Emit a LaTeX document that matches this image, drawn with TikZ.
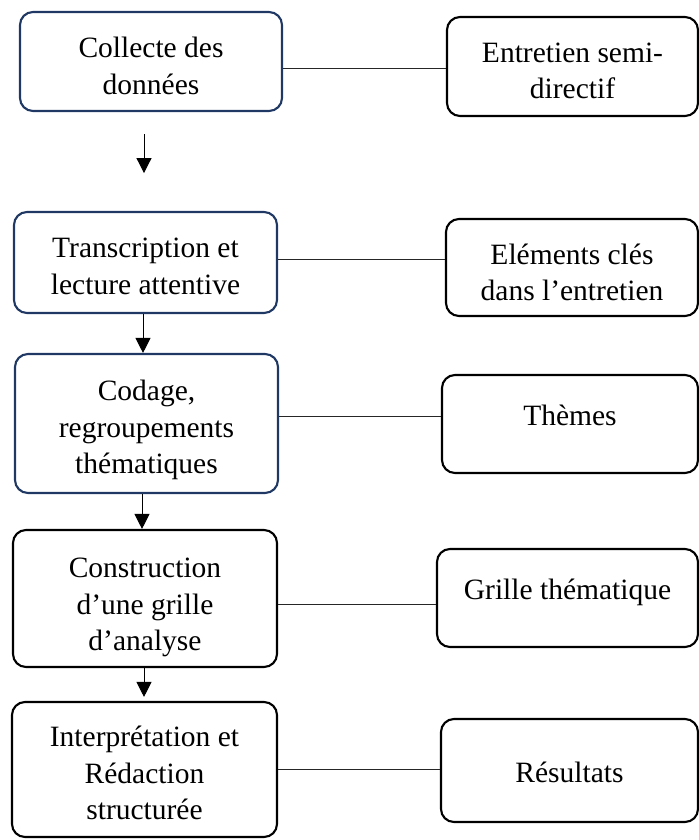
\documentclass[tikz,border=0pt]{standalone}
\usepackage{fontspec}
\setmainfont{Liberation Serif}
\usetikzlibrary{arrows.meta}
\definecolor{navyedge}{RGB}{32,56,100}
% invisible strut that sets the height of a first text line
\newcommand{\topgap}[1]{\rule{0pt}{#1}}
\begin{document}
\begin{tikzpicture}[x=1bp,y=-1bp,
  stepbox/.style={draw=black, line width=2.1bp, rounded corners=13bp,
    align=center, inner sep=0pt, fill=white,
    font=\fontsize{29.5bp}{36.5bp}\selectfont},
  bluebox/.style={stepbox, draw=navyedge},
  link/.style={line width=0.9bp, draw=black!85},
  flow/.style={line width=1bp, -{Triangle[width=15bp,length=15bp]}}]
\useasboundingbox (0,0) rectangle (699,840);

% process steps (left column)
\node[bluebox, minimum width=262bp, minimum height=99bp] (l1) at (151,61.5) {\topgap{29bp}Collecte des\\données};
\node[bluebox, minimum width=263bp, minimum height=101bp] (l2) at (145.5,262.5) {\topgap{27bp}Transcription et\\lecture attentive};
\node[bluebox, minimum width=263bp, minimum height=139bp] (l3) at (146.5,423.5) {\topgap{34bp}Codage,\\regroupements\\thématiques};
\node[stepbox, minimum width=264bp, minimum height=137bp] (l4) at (145,598.5) {\topgap{38bp}Construction\\d’une grille\\d’analyse};
\node[stepbox, minimum width=265bp, minimum height=135bp] (l5) at (144.5,769.5) {\topgap{28bp}Interprétation et\\Rédaction\\structurée};

% outputs (right column)
\node[stepbox, minimum width=251bp, minimum height=99bp] (r1) at (572.5,66.5) {\topgap{28bp}Entretien semi-\\directif};
\node[stepbox, minimum width=252bp, minimum height=97bp] (r2) at (572,267.5) {\topgap{30bp}Eléments clés\\dans l’entretien};
\node[stepbox, minimum width=256bp, minimum height=98bp, text depth=18bp] (r3) at (570,424) {Thèmes};
\node[stepbox, minimum width=261bp, minimum height=98bp, text depth=18bp] (r4) at (567.5,598) {Grille thématique};
\node[stepbox, minimum width=257bp, minimum height=103bp] (r5) at (569.5,770.5) {\topgap{24bp}Résultats};

% horizontal links between columns
\draw[link] ([yshift=-6.5bp]l1.east) -- ([yshift=-6.5bp]l1.east -| r1.west);
\draw[link] ([yshift=3.5bp]l2.east) -- ([yshift=3.5bp]l2.east -| r2.west);
\draw[link] ([yshift=7.5bp]l3.east) -- ([yshift=7.5bp]l3.east -| r3.west);
\draw[link] ([yshift=-5.5bp]l4.east) -- ([yshift=-5.5bp]l4.east -| r4.west);
\draw[link] (l5.east) -- (l5.east -| r5.west);

% flow arrows
\coordinate (a1s) at ([xshift=-7bp,yshift=-22bp]l1.south);
\coordinate (a1e) at ([xshift=-7bp,yshift=-61bp]l1.south);
\draw[flow] (a1s) -- (a1e);
\draw[flow] ([xshift=-2.5bp]l2.south) -- ([xshift=-2.5bp]l2.south |- l3.north);
\draw[flow] ([xshift=-4.5bp]l3.south) -- ([xshift=-4.5bp]l3.south |- l4.north);
\draw[flow] ([xshift=-1bp]l4.south) -- ([xshift=-1bp,yshift=4bp]l4.south |- l5.north);
\end{tikzpicture}
\end{document}
